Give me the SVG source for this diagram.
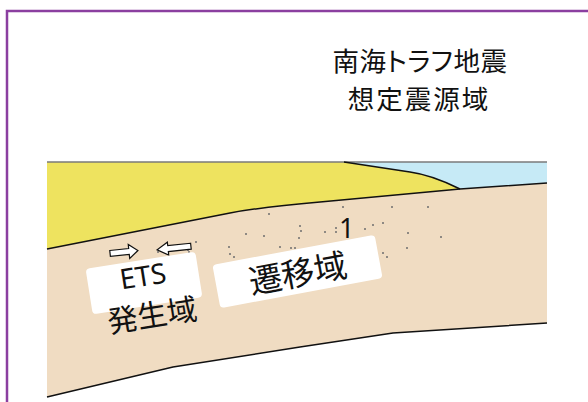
<svg xmlns="http://www.w3.org/2000/svg" width="588" height="402" viewBox="0 0 588 402">
  <style>
    .jp { font-family: "Noto Sans CJK JP", "Noto Sans", sans-serif; fill: #111; }
    .lat { font-family: "Noto Sans", "Liberation Sans", sans-serif; fill: #111; }
    .title { font-size: 26.5px; text-anchor: middle; }
    .edge { fill: none; stroke: #111; stroke-width: 1.5; stroke-linejoin: round; }
    .label-box { fill: #ffffff; }
    .arrow { fill: #ffffff; stroke: #111; stroke-width: 1.2; stroke-linejoin: miter; }
    .dot { fill: #6e6e6e; }
  </style>

  <rect width="588" height="402" fill="#ffffff"/>

  <!-- frame -->
  <path d="M7,402 V11 H588" fill="none" stroke="#8b3fa0" stroke-width="2.5"/>

  <!-- title -->
  <g id="title">
    <text class="jp title" x="420" y="70.5" style="font-feature-settings: 'palt'; letter-spacing: 0.5px">南海トラフ地震</text>
    <text class="jp title" x="419" y="109" letter-spacing="2">想定震源域</text>
  </g>

  <!-- cross section -->
  <g id="section">
    <!-- sea -->
    <path id="sea" d="M344,162 H547 V183 L460,189 Q432,175 410,172 Z" fill="#c6eaf6"/>
    <!-- overriding plate (land) -->
    <path id="land" d="M47,162 H344 L410,172 Q432,175 460,189 L320,202 Q262,207 230,213 L47,249 Z" fill="#eee35f"/>
    <!-- subducting plate -->
    <path id="slab" d="M47,249 L230,213 Q262,207 320,202 L460,189 L547,183 V323 L393,333 L300,347 L173,367 L47,397 Z" fill="#f0dcc2"/>
    <!-- surface line -->
    <path d="M47,162 H547" fill="none" stroke="#7a7a7a" stroke-width="1.5"/>
    <!-- boundaries -->
    <path class="edge" d="M344,162 L410,172 Q432,175 460,189"/>
    <path class="edge" d="M47,249 L230,213 Q262,207 320,202 L460,189 L547,183"/>
    <path class="edge" d="M547,323 L393,333 L300,347 L173,367 L47,397"/>
  </g>

  <!-- tremor scatter -->
  <g id="tremors">
    <circle class="dot" cx="343" cy="207" r="1"/>
    <circle class="dot" cx="392" cy="207" r="1"/>
    <circle class="dot" cx="428" cy="207" r="1"/>
    <circle class="dot" cx="269" cy="214" r="1"/>
    <circle class="dot" cx="300" cy="226" r="1"/>
    <circle class="dot" cx="301" cy="231" r="1"/>
    <circle class="dot" cx="299" cy="238" r="1"/>
    <circle class="dot" cx="325" cy="232" r="1"/>
    <circle class="dot" cx="336" cy="228" r="1"/>
    <circle class="dot" cx="336" cy="232" r="1"/>
    <circle class="dot" cx="365" cy="229" r="1"/>
    <circle class="dot" cx="373" cy="225" r="1"/>
    <circle class="dot" cx="383" cy="223" r="1"/>
    <circle class="dot" cx="408" cy="233" r="1"/>
    <circle class="dot" cx="441" cy="237" r="1"/>
    <circle class="dot" cx="407" cy="248" r="1"/>
    <circle class="dot" cx="383" cy="253" r="1"/>
    <circle class="dot" cx="387" cy="257" r="1"/>
    <circle class="dot" cx="246" cy="234" r="1"/>
    <circle class="dot" cx="264" cy="236" r="1"/>
    <circle class="dot" cx="280" cy="247" r="1"/>
    <circle class="dot" cx="291" cy="248" r="1"/>
    <circle class="dot" cx="295" cy="248" r="1"/>
    <circle class="dot" cx="229" cy="247" r="1"/>
    <circle class="dot" cx="230" cy="254" r="1"/>
    <circle class="dot" cx="234" cy="257" r="1"/>
    <circle class="dot" cx="196" cy="242" r="1"/>
    <circle class="dot" cx="188" cy="250" r="1"/>
    <circle class="dot" cx="158" cy="252" r="1"/>
    <circle class="dot" cx="189" cy="252" r="1"/>
  </g>

  <!-- slip direction arrows -->
  <g id="arrows">
    <polygon class="arrow" transform="translate(124,252) rotate(-6)" points="-14,-3 5,-3 5,-7 14,0 5,7 5,3 -14,3"/>
    <polygon class="arrow" transform="translate(174,248) rotate(-6)" points="17,-3 -6,-3 -6,-6.5 -17,0 -6,6.5 -6,3 17,3"/>
  </g>

  <!-- labels -->
  <g id="ets" transform="translate(144,283) rotate(-9)">
    <rect class="label-box" x="-55.5" y="-23" width="111" height="46" rx="4"/>
    <text class="lat" x="0" y="3" font-size="28" text-anchor="middle">ETS</text>
    <text class="jp" x="3" y="44" font-size="30" text-anchor="middle">発生域</text>
  </g>

  <g id="transition" transform="translate(297.5,271.5) rotate(-10.5)">
    <rect class="label-box" x="-82.5" y="-22" width="165" height="44" rx="4"/>
    <text class="jp" x="0" y="14" font-size="33" text-anchor="middle">遷移域</text>
  </g>

  <g id="mark-1">
    <text class="lat" x="339" y="238" font-size="27">1</text>
  </g>
</svg>
